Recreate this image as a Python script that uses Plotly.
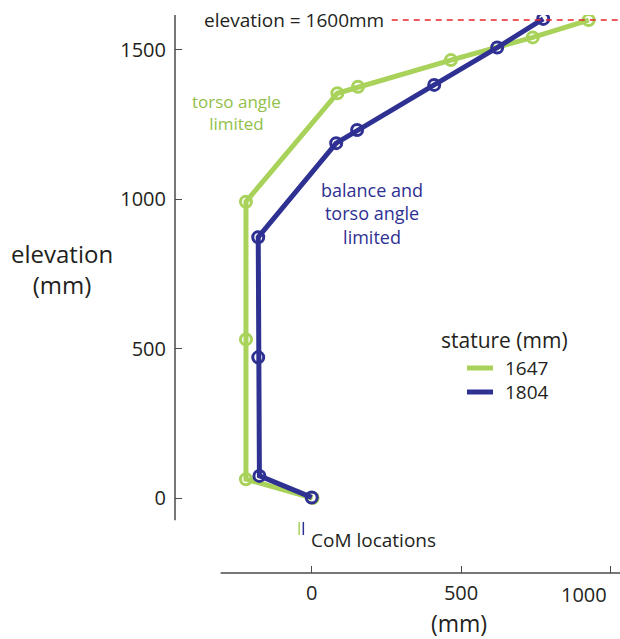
import plotly.graph_objects as go

# Data (mm)
green_x = [927, 740, 466, 155, 86, -220, -220, -220, 3]
green_y = [1600, 1542, 1466, 1377, 1355, 992, 531, 63, 0]
blue_x = [775, 621, 410, 152, 82, -179, -179, -175, 0]
blue_y = [1604, 1508, 1383, 1232, 1188, 873, 471, 74, 2]
com_x = [-42, -28]
statures = ["1647", "1804"]
elev_ref = 1600
y_ticks = [0, 500, 1000, 1500]
x_ticks = [0, 500, 1000]

GREEN = "#a8d25a"
BLUE = "#2e3192"
GREEN_TXT = "#92c04a"
TXT = "#231f20"
AX = "#4a4a4a"
FONT = "Open Sans"

L, T, W, H = 175, 15, 620, 639
B_PX = 573  # pixel row of x-axis

fig = go.Figure()
for xs, ys, c, name in [(green_x, green_y, GREEN, statures[0]), (blue_x, blue_y, BLUE, statures[1])]:
    fig.add_trace(go.Scatter(
        x=xs, y=ys, mode="lines+markers", name=name,
        line=dict(color=c, width=5),
        marker=dict(symbol="circle-open", size=11, color=c, line=dict(width=3, color=c)),
        showlegend=False, hoverinfo="skip"))

# CoM location marks
for cx, c in zip(com_x, [GREEN, BLUE]):
    fig.add_trace(go.Scatter(x=[cx, cx], y=[-80, -124], mode="lines",
                             line=dict(color=c, width=1.5), showlegend=False, hoverinfo="skip"))

XR = [-457.6, 1032]
YR = [-251, 1617]

fig.update_layout(
    width=W, height=H,
    margin=dict(l=L, r=0, t=T, b=H - B_PX),
    plot_bgcolor="white", paper_bgcolor="white",
    font=dict(family=FONT, color=TXT, size=20),
    xaxis=dict(range=XR, showgrid=False, zeroline=False, showline=False,
               tickvals=x_ticks, ticktext=[str(v) if v < 1000 else "" for v in x_ticks],
               ticks="inside", ticklen=7, tickcolor=AX, tickwidth=1.2,
               tickfont=dict(size=20, color=TXT), ticklabelstandoff=6),
    yaxis=dict(range=YR, showgrid=False, zeroline=False, showline=False,
               tickvals=y_ticks, ticks="inside", ticklen=7, tickcolor=AX, tickwidth=1.2,
               tickfont=dict(size=20, color=TXT), ticklabelstandoff=8),
)

def pp(px, py):
    """pixel -> paper coords"""
    return (px - L) / (W - L), (B_PX - py) / (B_PX - T)

# axis lines
fig.add_shape(type="line", xref="paper", yref="y", x0=0, x1=0, y0=-74, y1=YR[1],
              line=dict(color=AX, width=1.5))
fig.add_shape(type="line", xref="x", yref="paper", x0=-305, x1=XR[1], y0=0, y1=0,
              line=dict(color=AX, width=1.5))

# last x tick label, pulled inside the page
ax_, ay_ = pp(609, 594)
fig.add_annotation(x=x_ticks[-1] - 5, y=ay_, xref="x", yref="paper", text=str(x_ticks[-1]),
                   showarrow=False, xanchor="right", yanchor="middle",
                   font=dict(size=20, color=TXT))

# reference elevation line
fig.add_shape(type="line", xref="x", yref="y", x0=268, x1=XR[1], y0=elev_ref, y1=elev_ref,
              line=dict(color="#e8262b", width=1.5, dash="6px,5px"))
fig.add_annotation(x=248, y=elev_ref, xref="x", yref="y", text=f"elevation = {elev_ref}mm",
                   showarrow=False, xanchor="right", yanchor="middle",
                   font=dict(size=19, color=TXT))

fig.add_annotation(x=-253, y=1292, xref="x", yref="y", text="torso angle<br>limited",
                   showarrow=False, font=dict(size=17, color=GREEN_TXT), align="center",
                   xanchor="center", yanchor="middle")
fig.add_annotation(x=202, y=951, xref="x", yref="y", text="balance and<br>torso angle<br>limited",
                   showarrow=False, font=dict(size=18, color=BLUE), align="center",
                   xanchor="center", yanchor="middle")

cx_, cy_ = pp(309, 540)
fig.add_annotation(x=cx_, y=cy_, xref="paper", yref="paper", text="CoM locations", showarrow=False,
                   xanchor="left", yanchor="middle", font=dict(size=19, color=TXT))

# axis titles
tx, ty = pp(62, 269)
fig.add_annotation(x=tx, y=ty, xref="paper", yref="paper", text="elevation<br>(mm)",
                   showarrow=False, font=dict(size=24, color=TXT), align="center",
                   xanchor="center", yanchor="middle")
tx, ty = pp(459, 623)
fig.add_annotation(x=tx, y=ty, xref="paper", yref="paper", text="(mm)", showarrow=False,
                   font=dict(size=23, color=TXT), xanchor="center", yanchor="middle")

# legend (manual)
lx, ly = pp(504, 340)
fig.add_annotation(x=lx, y=ly, xref="paper", yref="paper", text="stature (mm)", showarrow=False,
                   xanchor="center", yanchor="middle", font=dict(size=21, color=TXT))
for i, (s, c) in enumerate(zip(statures, [GREEN, BLUE])):
    py = 368 + 24 * i
    x0, yy = pp(467, py)
    x1, _ = pp(493, py)
    fig.add_shape(type="line", xref="paper", yref="paper", x0=x0, x1=x1, y0=yy, y1=yy,
                  line=dict(color=c, width=5))
    tx, _ = pp(503, py)
    fig.add_annotation(x=tx, y=yy, xref="paper", yref="paper", text=s, showarrow=False,
                       xanchor="left", yanchor="middle", font=dict(size=19, color=TXT))

fig.write_html("out.html")
